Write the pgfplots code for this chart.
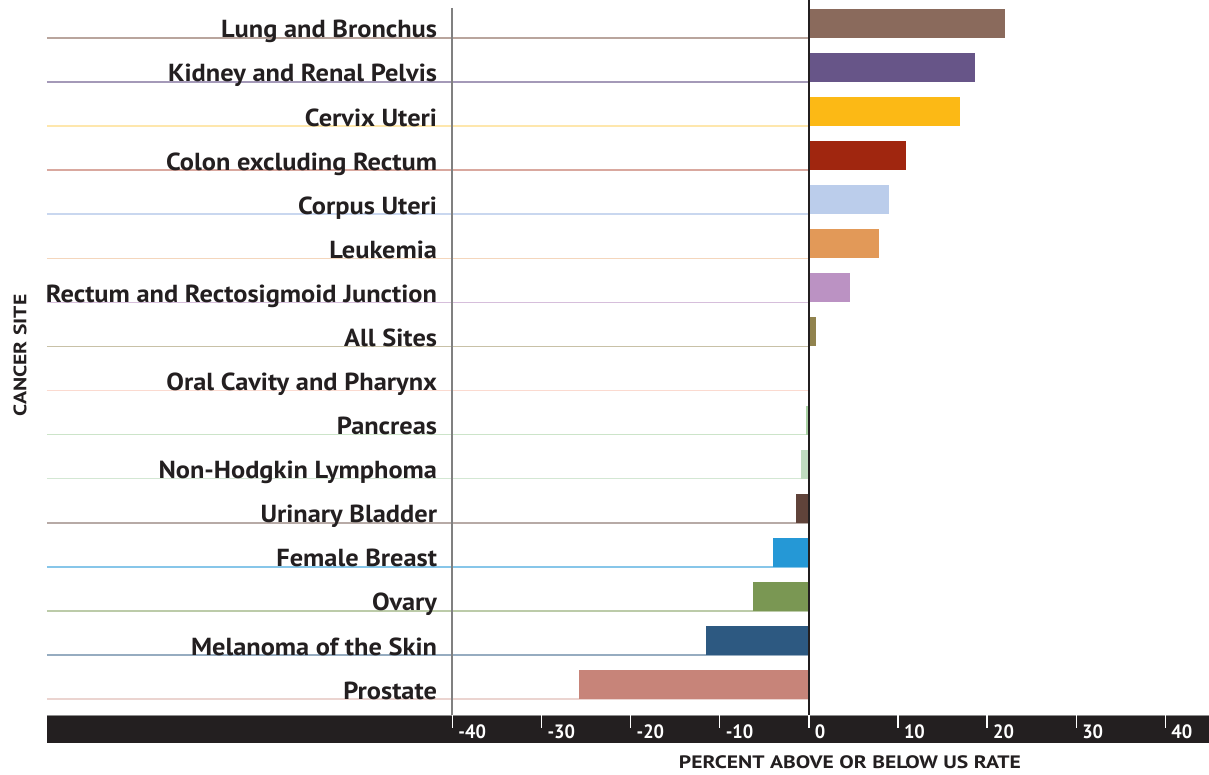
\documentclass[border=0pt]{standalone}
\usepackage{pgfplots}
\pgfplotsset{compat=1.18}
\usepackage{fontspec}
\setmainfont{PT Sans}
\newfontfamily\condfont{PT Sans}[FakeStretch=0.95]
\newfontfamily\labfont{PT Sans}[FakeStretch=1.07]
\newfontfamily\widefont{PT Sans}[FakeStretch=1.2]
\definecolor{cLung}{RGB}{138,106,92}
\definecolor{cKid}{RGB}{103,85,136}
\definecolor{cCer}{RGB}{252,185,21}
\definecolor{cCol}{RGB}{160,38,15}
\definecolor{cCor}{RGB}{187,205,235}
\definecolor{cLeu}{RGB}{226,153,88}
\definecolor{cRec}{RGB}{187,146,195}
\definecolor{cAll}{RGB}{145,131,78}
\definecolor{cOra}{RGB}{247,180,160}
\definecolor{cPan}{RGB}{170,210,165}
\definecolor{cNhl}{RGB}{192,220,192}
\definecolor{cUri}{RGB}{96,67,58}
\definecolor{cBre}{RGB}{37,152,214}
\definecolor{cOva}{RGB}{122,151,83}
\definecolor{cMel}{RGB}{45,89,129}
\definecolor{cPro}{RGB}{199,132,121}
\definecolor{band}{RGB}{35,31,32}
\pgfplotsset{
  hbar/.style={xbar, bar width=21.75pt, bar shift=0pt, draw=none, fill=#1},
  catline/.style={#1, line width=1.1pt},
}
\begin{document}
\begin{tikzpicture}
\useasboundingbox (-35.25pt,-44.25pt) rectangle (871.5pt,536.25pt);
\begin{axis}[
  scale only axis, width=871.5pt, height=536.25pt,
  at={(0,0)}, anchor=south west,
  xmin=-85.5, xmax=44.9, ymin=-15.69, ymax=0.53,
  axis line style={draw=none},
  axis on top, clip=false,
  xtick={-40,-30,...,40},
  xtick pos=bottom, tick align=outside,
  x tick style={white, line width=1pt},
  major tick length=9.5pt,
  xticklabel style={white, anchor=north west, xshift=1pt, yshift=6pt, font=\condfont\fontsize{14.5}{16}\selectfont\bfseries},
  /pgf/number format/assume math mode=true,
  ytick={-0.33,-1.33,-2.33,-3.33,-4.33,-5.33,-6.33,-7.33,-8.33,-9.33,-10.33,-11.33,-12.33,-13.33,-14.33,-15.33},
  yticklabels={Lung and Bronchus,Kidney and Renal Pelvis,Cervix Uteri,Colon excluding Rectum,Corpus Uteri,Leukemia,Rectum and Rectosigmoid Junction,All Sites,Oral Cavity and Pharynx,Pancreas,Non-Hodgkin Lymphoma,Urinary Bladder,Female Breast,Ovary,Melanoma of the Skin,Prostate},
  y tick style={draw=none},
  yticklabel style={anchor=base east, inner sep=0pt, xshift=302.25pt, text=band, font=\labfont\fontsize{18.5}{20}\selectfont\bfseries},
  xlabel={PERCENT ABOVE OR BELOW US RATE},
  xlabel style={at={(rel axis cs:0.691,0)}, anchor=center, yshift=-35.25pt, text=band, font=\widefont\fontsize{13.5}{14}\selectfont\bfseries},
  ylabel={CANCER SITE},
  ylabel style={at={(rel axis cs:0,0.503)}, anchor=center, yshift=20.25pt, text=band, font=\widefont\fontsize{13.5}{14}\selectfont\bfseries},
]
% band
\fill[band] (axis cs:-85.5,-15.69) rectangle (axis cs:44.9,-16.33);
\draw[black!45, line width=0.6pt] (axis cs:-85.5,-15.69) -- (axis cs:44.9,-15.69);
% thin category lines
\addplot[catline=cLung!60] coordinates {(-85.5,-0.33) (0,-0.33)};
\addplot[catline=cKid!60] coordinates {(-85.5,-1.33) (0,-1.33)};
\addplot[catline=cCer!35] coordinates {(-85.5,-2.33) (0,-2.33)};
\addplot[catline=cCol!40] coordinates {(-85.5,-3.33) (0,-3.33)};
\addplot[catline=cCor!80] coordinates {(-85.5,-4.33) (0,-4.33)};
\addplot[catline=cLeu!40] coordinates {(-85.5,-5.33) (0,-5.33)};
\addplot[catline=cRec!60] coordinates {(-85.5,-6.33) (0,-6.33)};
\addplot[catline=cAll!50] coordinates {(-85.5,-7.33) (0,-7.33)};
\addplot[catline=cOra!50] coordinates {(-85.5,-8.33) (0,-8.33)};
\addplot[catline=cPan!60] coordinates {(-85.5,-9.33) (0,-9.33)};
\addplot[catline=cNhl!70] coordinates {(-85.5,-10.33) (0,-10.33)};
\addplot[catline=cUri!45] coordinates {(-85.5,-11.33) (0,-11.33)};
\addplot[catline=cBre!55] coordinates {(-85.5,-12.33) (0,-12.33)};
\addplot[catline=cOva!50] coordinates {(-85.5,-13.33) (0,-13.33)};
\addplot[catline=cMel!50] coordinates {(-85.5,-14.33) (0,-14.33)};
\addplot[catline=cPro!35] coordinates {(-85.5,-15.33) (0,-15.33)};
% bars
\addplot[hbar=cLung] coordinates {(22.0,0)};
\addplot[hbar=cKid] coordinates {(18.6,-1)};
\addplot[hbar=cCer] coordinates {(17.0,-2)};
\addplot[hbar=cCol] coordinates {(10.9,-3)};
\addplot[hbar=cCor] coordinates {(9.0,-4)};
\addplot[hbar=cLeu] coordinates {(7.9,-5)};
\addplot[hbar=cRec] coordinates {(4.6,-6)};
\addplot[hbar=cAll] coordinates {(0.8,-7)};
\addplot[hbar=cOra] coordinates {(-0.1,-8)};
\addplot[hbar=cPan] coordinates {(-0.3,-9)};
\addplot[hbar=cNhl] coordinates {(-0.9,-10)};
\addplot[hbar=cUri] coordinates {(-1.5,-11)};
\addplot[hbar=cBre] coordinates {(-4.0,-12)};
\addplot[hbar=cOva] coordinates {(-6.3,-13)};
\addplot[hbar=cMel] coordinates {(-11.6,-14)};
\addplot[hbar=cPro] coordinates {(-25.8,-15)};
\end{axis}
\begin{axis}[
  scale only axis, width=871.5pt, height=536.25pt,
  at={(0,0)}, anchor=south west,
  xmin=-85.5, xmax=44.9, ymin=-15.69, ymax=0.53,
  hide axis, clip=false,
]
\addplot[black!50, line width=1.5pt] coordinates {(-40,0.35) (-40,-15.69)};
\addplot[band, line width=1.6pt] coordinates {(0,0.53) (0,-15.69)};
\end{axis}
\end{tikzpicture}
\end{document}
